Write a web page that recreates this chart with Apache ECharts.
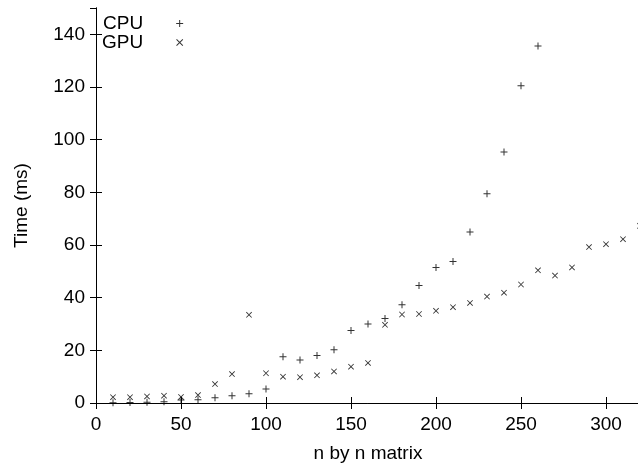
<!DOCTYPE html>
<html>
<head>
<meta charset="utf-8">
<script src="https://cdn.jsdelivr.net/npm/echarts@6/dist/echarts.min.js"></script>
<style>
  html, body { margin: 0; padding: 0; background: #fff; }
  #chart { width: 638px; height: 464px; }
</style>
</head>
<body>
<div id="chart"></div>
<script>
// matrix sizes (n) and timings in ms
const cpuSizes = [10, 20, 30, 40, 50, 60, 70, 80, 90, 100, 110, 120, 130,
  140, 150, 160, 170, 180, 190, 200, 210, 220, 230, 240, 250, 260];
const cpuTimes = [0.1, 0.2, 0.3, 0.5, 1.1, 1.2, 2.0, 2.8, 3.5, 5.3, 17.6, 16.3, 18.0,
  20.2, 27.5, 30.0, 32.1, 37.3, 44.6, 51.5, 53.7, 64.9, 79.5, 95.3, 120.5, 135.6];

const gpuSizes = [10, 20, 30, 40, 50, 60, 70, 80, 90, 100, 110, 120, 130, 140, 150, 160,
  170, 180, 190, 200, 210, 220, 230, 240, 250, 260, 270, 280, 290, 300, 310, 320];
const gpuTimes = [2.2, 2.2, 2.5, 2.8, 2.3, 3.0, 7.2, 11.0, 33.5, 11.3, 10.0, 9.8, 10.5, 12.0, 13.8, 15.2,
  29.7, 33.6, 33.8, 35.0, 36.4, 38.0, 40.4, 41.9, 45.0, 50.4, 48.4, 51.5, 59.2, 60.3, 62.2, 67.3];

const xTicks = { min: 0, max: 320, interval: 50 };
const yTicks = { min: 0, max: 150, interval: 20 };

const FONT = 'Liberation Sans, Arial, sans-serif';
const PLUS = 'path://M0,3L7,3L7,4L0,4Z M3,0L4,0L4,7L3,7Z';
const CROSS = 'path://M0,0.7L0.7,0L7,6.3L6.3,7Z M6.3,0L7,0.7L0.7,7L0,6.3Z';

const chart = echarts.init(document.getElementById('chart'), null, { renderer: 'canvas' });

const axisLine = { show: true, lineStyle: { color: '#000', width: 1 } };
const tick = { show: true, inside: true, length: 6, lineStyle: { color: '#000' } };

function zip(xs, ys) {
  return xs.map((x, i) => [x, ys[i]]);
}

chart.setOption({
  animation: false,
  backgroundColor: '#fff',
  // plot frame runs off the right edge, like the original
  grid: { left: 96, top: 8, width: 544, height: 395, containLabel: false, outerBoundsMode: 'none' },
  legend: {
    orient: 'vertical',
    left: 102,
    top: 14,
    padding: 0,
    align: 'right',
    itemWidth: 7,
    itemHeight: 7,
    itemGap: 0,
    selectedMode: false,
    textStyle: { fontFamily: FONT, fontSize: 19, lineHeight: 19, color: '#000', padding: [0, 28, 0, 0] },
    data: ['CPU', 'GPU']
  },
  xAxis: [
    {
      type: 'value', position: 'bottom', ...xTicks,
      name: 'n by n matrix', nameLocation: 'middle', nameGap: 41,
      nameTextStyle: { fontFamily: FONT, fontSize: 19, color: '#000' },
      axisLine, axisTick: tick, splitLine: { show: false },
      axisLabel: { fontFamily: FONT, fontSize: 19, color: '#000', margin: 12, showMaxLabel: false }
    },
    {
      type: 'value', position: 'top', ...xTicks,
      axisLine, axisTick: tick, splitLine: { show: false }, axisLabel: { show: false }
    }
  ],
  yAxis: [
    {
      type: 'value', position: 'left', ...yTicks,
      name: 'Time (ms)', nameLocation: 'middle', nameGap: 65, nameRotate: 90,
      nameTextStyle: { fontFamily: FONT, fontSize: 19, color: '#000' },
      axisLine, axisTick: tick, splitLine: { show: false },
      axisLabel: { fontFamily: FONT, fontSize: 19, color: '#000', margin: 11, showMaxLabel: false }
    },
    {
      type: 'value', position: 'right', ...yTicks,
      axisLine, axisTick: tick, splitLine: { show: false }, axisLabel: { show: false }
    }
  ],
  series: [
    {
      name: 'CPU', type: 'scatter', symbol: PLUS, symbolSize: 7, symbolKeepAspect: true,
      itemStyle: { color: '#000' }, data: zip(cpuSizes, cpuTimes)
    },
    {
      name: 'GPU', type: 'scatter', symbol: CROSS, symbolSize: 6, symbolKeepAspect: true,
      itemStyle: { color: '#000' }, data: zip(gpuSizes, gpuTimes)
    }
  ]
});
</script>
</body>
</html>
